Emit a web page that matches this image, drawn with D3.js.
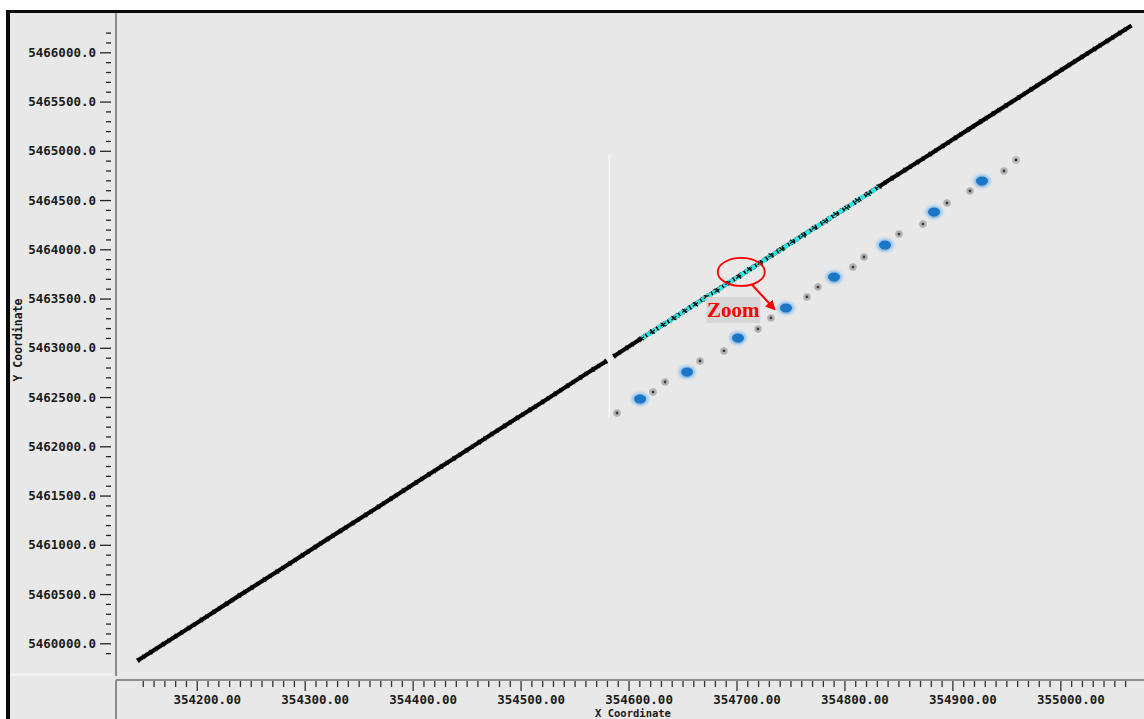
<!DOCTYPE html>
<html>
<head>
<meta charset="utf-8">
<script src="https://cdn.jsdelivr.net/npm/d3@7/dist/d3.min.js"></script>
<style>
  html, body { margin: 0; padding: 0; background: #ffffff; }
  svg { display: block; }
  .tick text { font-family: "DejaVu Sans Mono", "Liberation Mono", monospace; font-weight: bold; font-size: 12.5px; fill: #1a1a1a; }
  .axis-title { font-family: "DejaVu Sans Mono", "Liberation Mono", monospace; font-weight: bold; font-size: 11.5px; fill: #1a1a1a; }
</style>
</head>
<body>
<script>
// Road centreline (UTM metres), west part up to the break and east part after it
const trackWest = [
  [354145, 5459822], [354170, 5459998], [354200, 5460207], [354240, 5460489],
  [354280, 5460766], [354320, 5461050], [354360, 5461327], [354400, 5461610],
  [354440, 5461888], [354480, 5462171], [354520, 5462448], [354560, 5462731],
  [354580, 5462869]
];
const trackEast = [
  [354586, 5462911], [354610, 5463081], [354640, 5463289], [354680, 5463571],
  [354720, 5463850], [354760, 5464132], [354800, 5464410], [354840, 5464693],
  [354880, 5464970], [354920, 5465253], [354960, 5465531], [355000, 5465814],
  [355040, 5466091], [355066, 5466273]
];
// Matched segment (highlighted in cyan)
const matched = [
  [354612, 5463094], [354622, 5463164], [354632, 5463237], [354642, 5463301],
  [354652, 5463377], [354662, 5463441], [354672, 5463516], [354682, 5463580],
  [354692, 5463657], [354702, 5463721], [354712, 5463797], [354722, 5463862],
  [354732, 5463938], [354742, 5464001], [354752, 5464078], [354762, 5464141],
  [354772, 5464218], [354782, 5464282], [354792, 5464358], [354802, 5464421],
  [354812, 5464498], [354822, 5464561], [354832, 5464638]
];
// Clustered GPS fixes
const clusters = [
  [354610.7, 5462480], [354654.2, 5462754], [354701.4, 5463099], [354745.9, 5463404],
  [354790.4, 5463718], [354837.6, 5464043], [354883.0, 5464378], [354927.4, 5464693]
];
// Single GPS fixes
const fixes = [
  [354589.3, 5462338], [354622.7, 5462551], [354633.8, 5462653], [354666.2, 5462866],
  [354688.4, 5462968], [354719.9, 5463191], [354731.9, 5463303], [354765.3, 5463516],
  [354775.5, 5463617], [354807.9, 5463820], [354818.1, 5463922], [354850.5, 5464155],
  [354872.7, 5464256], [354895.0, 5464470], [354916.3, 5464592], [354947.8, 5464795],
  [354958.9, 5464907]
];
// Vertical reference line
const refLineX = 354582.2;
const refLineY = [5462287, 5464957];
// Zoom callout position
const zoomAt = [354704.4, 5463770];
const zoomLabel = "Zoom";

// Tick values
const xMajor = [354200, 354300, 354400, 354500, 354600, 354700, 354800, 354900, 355000];
const xMinorRange = [354150, 355060, 10];
const yMajor = [5460000, 5460500, 5461000, 5461500, 5462000, 5462500, 5463000,
                5463500, 5464000, 5464500, 5465000, 5465500, 5466000];
const yMinorRange = [5459900, 5466200, 100];
const xTitle = "X Coordinate";
const yTitle = "Y Coordinate";

const W = 1144, H = 719;
const plot = { left: 116, right: 1144, top: 13, bottom: 676 };

const x = d3.scaleLinear().domain([354125.2, 355077.5]).range([plot.left, plot.right]);
const y = d3.scaleLinear().domain([5459668, 5466399]).range([plot.bottom, plot.top]);

const svg = d3.select("body").append("svg").attr("width", W).attr("height", H);

const defs = svg.append("defs");
defs.append("filter").attr("id", "soft").attr("x", "-50%").attr("y", "-50%").attr("width", "200%").attr("height", "200%")
  .append("feGaussianBlur").attr("stdDeviation", 1.4);
defs.append("filter").attr("id", "softer").attr("x", "-50%").attr("y", "-50%").attr("width", "200%").attr("height", "200%")
  .append("feGaussianBlur").attr("stdDeviation", 0.6);
defs.append("clipPath").attr("id", "plotClip").append("rect")
  .attr("x", plot.left + 2).attr("y", plot.top).attr("width", plot.right - plot.left).attr("height", plot.bottom - plot.top);
defs.append("marker").attr("id", "arrowHead").attr("viewBox", "0 0 10 10")
  .attr("refX", 8).attr("refY", 5).attr("markerWidth", 5).attr("markerHeight", 5)
  .attr("orient", "auto").attr("markerUnits", "strokeWidth")
  .append("path").attr("d", "M0,0 L10,5 L0,10 z").attr("fill", "#ff0000");

// Panel background and frame
svg.append("rect").attr("x", 10).attr("y", 13).attr("width", W - 10).attr("height", H - 13).attr("fill", "#e8e8e8");
svg.append("rect").attr("x", 6).attr("y", 10).attr("width", 4).attr("height", H - 10).attr("fill", "#0a0a0a");
svg.append("rect").attr("x", 6).attr("y", 10).attr("width", W - 6).attr("height", 3).attr("fill", "#0a0a0a");
svg.append("line").attr("x1", 10).attr("x2", 113).attr("y1", 674.5).attr("y2", 674.5).attr("stroke", "#f6f6f6").attr("stroke-width", 1.5);

// Axis lines
svg.append("line").attr("x1", 116).attr("x2", 116).attr("y1", 13).attr("y2", 676).attr("stroke", "#8c8c8c").attr("stroke-width", 2);
svg.append("line").attr("x1", 116).attr("x2", W).attr("y1", 680).attr("y2", 680).attr("stroke", "#8c8c8c").attr("stroke-width", 2);
svg.append("line").attr("x1", 116).attr("x2", 116).attr("y1", 680).attr("y2", H).attr("stroke", "#8c8c8c").attr("stroke-width", 2);

// Y axis ticks
const yMinor = d3.range(yMinorRange[0], yMinorRange[1] + 1, yMinorRange[2]).filter(v => !yMajor.includes(v));
const yAxisG = svg.append("g").attr("transform", "translate(111,0)");
yAxisG.append("g").call(d3.axisLeft(y).tickValues(yMinor).tickSize(5).tickFormat(""))
  .call(g => g.select(".domain").remove())
  .call(g => g.selectAll("line").attr("stroke", "#222").attr("stroke-width", 1.3));
yAxisG.append("g").call(d3.axisLeft(y).tickValues(yMajor).tickSize(11).tickPadding(4).tickFormat(d3.format(".1f")))
  .call(g => g.select(".domain").remove())
  .call(g => g.selectAll("line").attr("stroke", "#222").attr("stroke-width", 1.3));

// X axis ticks
const xMinor = d3.range(xMinorRange[0], xMinorRange[1] + 1, xMinorRange[2]).filter(v => !xMajor.includes(v));
const xAxisG = svg.append("g").attr("transform", "translate(0,681)");
xAxisG.append("g").call(d3.axisBottom(x).tickValues(xMinor).tickSize(6).tickFormat(""))
  .call(g => g.select(".domain").remove())
  .call(g => g.selectAll("line").attr("stroke", "#333").attr("stroke-width", 1.3));
xAxisG.append("g").call(d3.axisBottom(x).tickValues(xMajor).tickSize(10).tickPadding(4).tickFormat(d3.format(".2f")))
  .call(g => g.select(".domain").remove())
  .call(g => g.selectAll("line").attr("stroke", "#333").attr("stroke-width", 1.3))
  .call(g => g.selectAll("text").attr("dx", 10));

// Axis titles
svg.append("text").attr("class", "axis-title").attr("text-anchor", "middle")
  .attr("transform", "translate(22,340) rotate(-90)").text(yTitle);
svg.append("text").attr("class", "axis-title").attr("text-anchor", "middle")
  .attr("font-size", "10.5px").style("font-size", "10.5px")
  .attr("x", 633).attr("y", 716.5).text(xTitle);

// Data layers
const g = svg.append("g").attr("clip-path", "url(#plotClip)");
const line = d3.line().x(d => x(d[0])).y(d => y(d[1]));

g.append("line")
  .attr("x1", x(refLineX)).attr("x2", x(refLineX))
  .attr("y1", y(refLineY[0])).attr("y2", y(refLineY[1]))
  .attr("stroke", "#f7f7f7").attr("stroke-width", 1.5);

[trackWest, trackEast].forEach(tr => {
  g.append("path").attr("d", line(tr)).attr("fill", "none")
    .attr("stroke", "#050505").attr("stroke-width", 4.2).attr("stroke-linejoin", "round");
  // fine roughness along the edges of the line
  g.append("path").attr("d", line(tr)).attr("fill", "none")
    .attr("stroke", "#050505").attr("stroke-width", 5.4).attr("stroke-dasharray", "2 5 1 7")
    .attr("opacity", 0.7);
});

g.append("path").attr("d", line(matched)).attr("fill", "none")
  .attr("stroke", "#2ee6e6").attr("stroke-width", 4.5).attr("stroke-dasharray", "5 1.5");
g.append("g").selectAll("path").data(matched).join("path")
  .attr("transform", d => `translate(${x(d[0])},${y(d[1])})`)
  .attr("d", "M-2.5,-1.8 L2.5,1.8 M-2.5,1.8 L2.5,-1.8")
  .attr("stroke", "#111").attr("stroke-width", 1.2);

// Single fixes: soft grey disc with dark centre
const fixG = g.append("g");
fixG.selectAll("circle.halo").data(fixes).join("circle").attr("class", "halo")
  .attr("cx", d => x(d[0])).attr("cy", d => y(d[1])).attr("r", 3.8)
  .attr("fill", "#b3b3b3").attr("filter", "url(#softer)");
fixG.selectAll("circle.core").data(fixes).join("circle").attr("class", "core")
  .attr("cx", d => x(d[0])).attr("cy", d => y(d[1])).attr("r", 1.4)
  .attr("fill", "#3a3a3a");

// Clusters: blurred blue blobs
const clG = g.append("g");
clG.selectAll("ellipse.under").data(clusters).join("ellipse").attr("class", "under")
  .attr("cx", d => x(d[0])).attr("cy", d => y(d[1]) + 3).attr("rx", 5).attr("ry", 3)
  .attr("fill", "#b0b0b0").attr("filter", "url(#softer)");
clG.selectAll("ellipse.halo").data(clusters).join("ellipse").attr("class", "halo")
  .attr("cx", d => x(d[0])).attr("cy", d => y(d[1])).attr("rx", 8.5).attr("ry", 6.5)
  .attr("fill", "#8fc2ee").attr("filter", "url(#soft)");
clG.selectAll("ellipse.core").data(clusters).join("ellipse").attr("class", "core")
  .attr("cx", d => x(d[0])).attr("cy", d => y(d[1])).attr("rx", 6).attr("ry", 4.6)
  .attr("fill", "#1f76c6").attr("filter", "url(#softer)");

// Zoom callout
const cx = x(zoomAt[0]), cy = y(zoomAt[1]);
svg.append("ellipse").attr("cx", cx).attr("cy", cy).attr("rx", 23.5).attr("ry", 14)
  .attr("fill", "none").attr("stroke", "#ff0000").attr("stroke-width", 1.8);
svg.append("line").attr("x1", cx + 11).attr("y1", cy + 13).attr("x2", cx + 33).attr("y2", cy + 37)
  .attr("stroke", "#ff0000").attr("stroke-width", 2).attr("marker-end", "url(#arrowHead)");
svg.append("rect").attr("x", cx - 35).attr("y", cy + 25).attr("width", 54).attr("height", 26)
  .attr("fill", "#d6d6d6");
svg.append("text").attr("x", cx - 8).attr("y", cy + 45).attr("text-anchor", "middle")
  .attr("font-family", "'Liberation Serif', 'Times New Roman', serif").attr("font-weight", "bold")
  .attr("font-size", 21).attr("fill", "#ff0000").text(zoomLabel);
</script>
</body>
</html>
